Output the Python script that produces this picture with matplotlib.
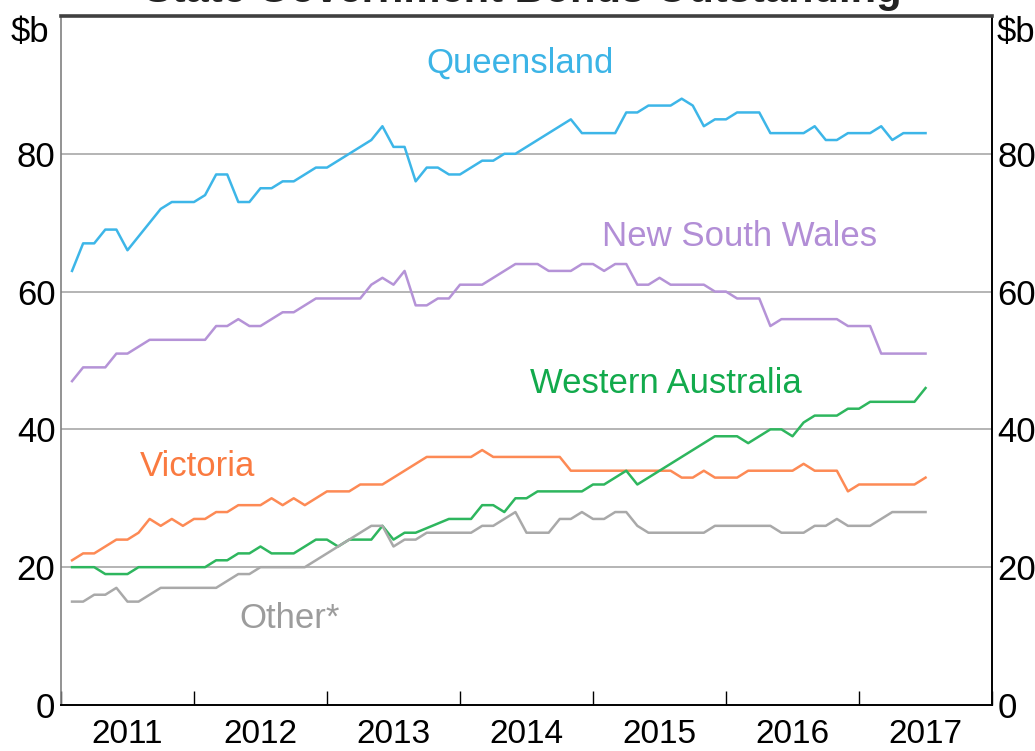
import numpy as np
import matplotlib.pyplot as plt
from matplotlib.ticker import FixedLocator, NullFormatter

plt.rcParams['font.family'] = ['Liberation Sans', 'DejaVu Sans']

# month offsets from January 2011 (vertices of each line) and $b values
qld_m = [0, 1, 2, 3, 4, 5, 8, 9, 11, 12, 13, 14, 15, 16, 17, 18, 19, 20, 22, 23, 27, 28, 29, 30,
         31, 32, 33, 34, 35, 37, 38, 39, 40, 45, 46, 49, 50, 51, 52, 54, 55, 56, 57, 58, 59, 60,
         62, 63, 66, 67, 68, 69, 70, 72, 73, 74, 75, 77]
qld_v = [63, 67, 67, 69, 69, 66, 72, 73, 73, 74, 77, 77, 73, 73, 75, 75, 76, 76, 78, 78, 82, 84, 81, 81,
         76, 78, 78, 77, 77, 79, 79, 80, 80, 85, 83, 83, 86, 86, 87, 87, 88, 87, 84, 85, 85, 86,
         86, 83, 83, 84, 82, 82, 83, 83, 84, 82, 83, 83]

nsw_m = [0, 1, 3, 4, 5, 7, 12, 13, 14, 15, 16, 17, 19, 20, 22, 26, 27, 28, 29, 30, 31, 32, 33, 34,
         35, 37, 40, 42, 43, 45, 46, 47, 48, 49, 50, 51, 52, 53, 54, 57, 58, 59, 60, 62, 63, 64,
         69, 70, 72, 73, 77]
nsw_v = [47, 49, 49, 51, 51, 53, 53, 55, 55, 56, 55, 55, 57, 57, 59, 59, 61, 62, 61, 63, 58, 58, 59, 59,
         61, 61, 64, 64, 63, 63, 64, 64, 63, 64, 64, 61, 61, 62, 61, 61, 60, 60, 59, 59, 55, 56,
         56, 55, 55, 51, 51]

vic_m = [0, 1, 2, 4, 5, 6, 7, 8, 9, 10, 11, 12, 13, 14, 15, 17, 18, 19, 20, 21, 23, 25, 26, 28,
         32, 36, 37, 38, 44, 45, 54, 55, 56, 57, 58, 60, 61, 65, 66, 67, 69, 70, 71, 76, 77]
vic_v = [21, 22, 22, 24, 24, 25, 27, 26, 27, 26, 27, 27, 28, 28, 29, 29, 30, 29, 30, 29, 31, 31, 32, 32,
         36, 36, 37, 36, 36, 34, 34, 33, 33, 34, 33, 33, 34, 34, 35, 34, 34, 31, 32, 32, 33]

wa_m = [0, 2, 3, 5, 6, 12, 13, 14, 15, 16, 17, 18, 20, 22, 23, 24, 25, 27, 28, 29, 30, 31, 34, 36,
        37, 38, 39, 40, 41, 42, 46, 47, 48, 50, 51, 58, 60, 61, 63, 64, 65, 66, 67, 69, 70, 71,
        72, 76, 77]
wa_v = [20, 20, 19, 19, 20, 20, 21, 21, 22, 22, 23, 22, 22, 24, 24, 23, 24, 24, 26, 24, 25, 25, 27, 27,
        29, 29, 28, 30, 30, 31, 31, 32, 32, 34, 32, 39, 39, 38, 40, 40, 39, 41, 42, 42, 43, 43,
        44, 44, 46]

oth_m = [0, 1, 2, 3, 4, 5, 6, 8, 13, 15, 16, 17, 21, 27, 28, 29, 30, 31, 32, 36, 37, 38, 40, 41,
         43, 44, 45, 46, 47, 48, 49, 50, 51, 52, 57, 58, 63, 64, 66, 67, 68, 69, 70, 72, 74, 77]
oth_v = [15, 15, 16, 16, 17, 15, 15, 17, 17, 19, 19, 20, 20, 26, 26, 23, 24, 24, 25, 25, 26, 26, 28, 25,
         25, 27, 27, 28, 27, 27, 28, 28, 26, 25, 25, 26, 26, 25, 25, 26, 26, 27, 26, 26, 28, 28]

years = [2011, 2012, 2013, 2014, 2015, 2016, 2017]
y_ticks = [0, 20, 40, 60, 80]


def month_to_year(m):
    # month-end position in fractional years
    return 2011 + (np.array(m) + 1) / 12


fig = plt.figure(figsize=(10.35, 7.51), dpi=100)
ax = fig.add_axes([0.0589, 0.0613, 0.8996, 0.9174])

for y in y_ticks[1:]:
    ax.axhline(y, color='#b4b4b4', lw=1.4, zorder=1)

series = [
    (qld_m, qld_v, '#3db6e8'),
    (nsw_m, nsw_v, '#b593d7'),
    (vic_m, vic_v, '#fd8a55'),
    (wa_m, wa_v, '#2eb65e'),
    (oth_m, oth_v, '#a9a9a9'),
]
for m, v, c in series:
    ax.plot(month_to_year(m), v, color=c, lw=1.8, zorder=3)

# series labels
lab_kw = dict(fontsize=25, ha='center', va='center')
ax.text(2014.45, 93.2, 'Queensland', color='#3cb4e6', **lab_kw)
ax.text(2016.10, 68.0, 'New South Wales', color='#b28ed6', **lab_kw)
ax.text(2015.55, 46.7, 'Western Australia', color='#12aa4c', **lab_kw)
ax.text(2012.03, 34.6, 'Victoria', color='#fa7a40', **lab_kw)
ax.text(2012.72, 12.5, 'Other*', color='#9c9c9c', **lab_kw)

ax.set_xlim(2011, 2018)
ax.set_ylim(0, 100)

ax.xaxis.set_major_locator(FixedLocator(list(range(2011, 2019))))
ax.xaxis.set_major_formatter(NullFormatter())
ax.xaxis.set_minor_locator(FixedLocator([y + 0.5 for y in years]))
ax.set_xticklabels([str(y) for y in years], minor=True)
ax.tick_params(axis='x', which='major', direction='in', length=10, width=1, color='black')
ax.tick_params(axis='x', which='minor', length=0, pad=10, labelsize=24)

ax.set_yticks(y_ticks)
ax.tick_params(axis='y', which='major', length=0, labelsize=25, pad=4,
               left=True, right=True, labelleft=True, labelright=True)

ax.spines['left'].set_color('#808080')
ax.spines['left'].set_linewidth(1.2)
ax.spines['right'].set_color('black')
ax.spines['right'].set_linewidth(1.4)
ax.spines['bottom'].set_color('black')
ax.spines['bottom'].set_linewidth(1.4)
ax.spines['top'].set_color('#404040')
ax.spines['top'].set_linewidth(2.6)

fig.text(0.029, 0.957, '$b', fontsize=25, ha='center', va='center')
fig.text(0.982, 0.957, '$b', fontsize=25, ha='center', va='center')

# title sits above the visible frame, only its lower edge shows
fig.text(0.505, 1.0125, 'State Government Bonds Outstanding', fontsize=30, fontweight='bold',
         ha='center', va='center', color='#222222')

fig.savefig('out.png', dpi=100)
